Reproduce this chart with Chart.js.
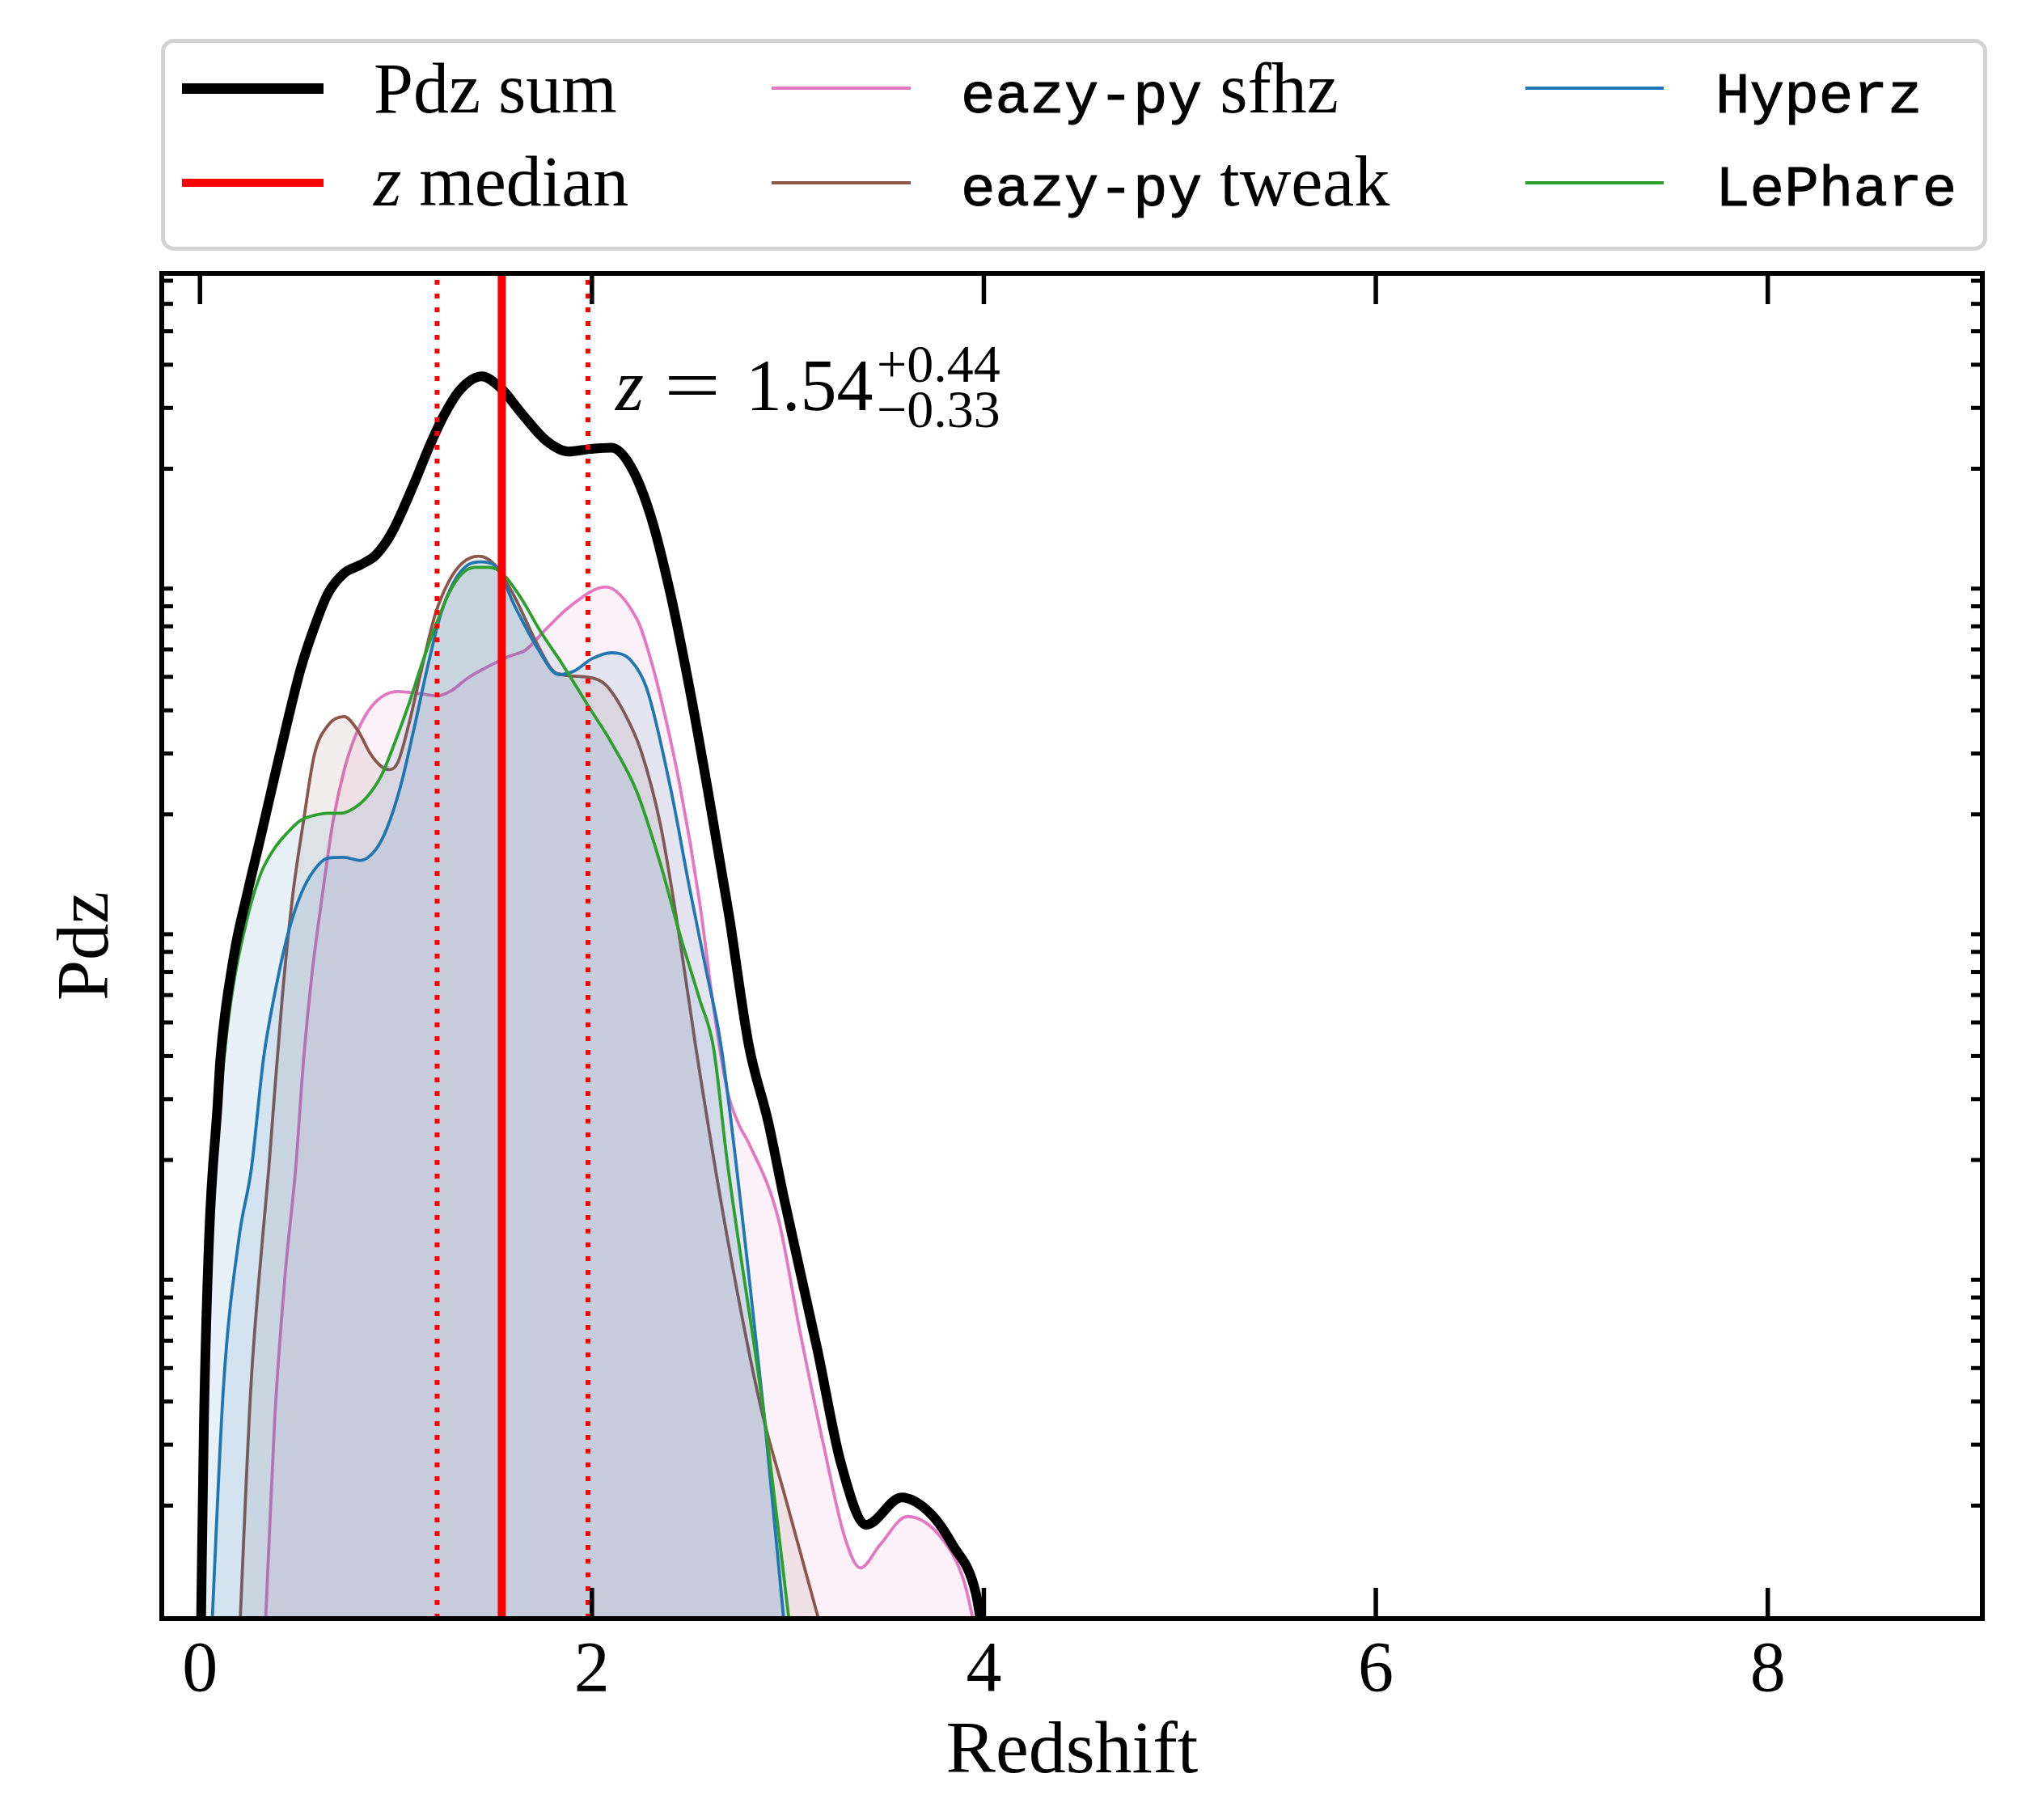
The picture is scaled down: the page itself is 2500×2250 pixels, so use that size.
<!DOCTYPE html>
<html>
<head>
<meta charset="utf-8">
<title>Pdz</title>
<script src="https://cdn.jsdelivr.net/npm/chart.js@4.4.1/dist/chart.umd.min.js"></script>
<style>
  html, body { margin: 0; padding: 0; background: #ffffff; }
  #wrap { position: relative; width: 2500px; height: 2250px; overflow: hidden; }
  #pdz-chart { position: absolute; left: 0; top: 0; }
  #legend-box { position: absolute; left: 199px; top: 48px; width: 2258px; height: 262px; box-sizing: border-box;
                border: 5px solid #d3d3d3; border-radius: 16px; background: rgba(255, 255, 255, 0.8); }
  .leg-line { position: absolute; }
  .leg-text { position: absolute; font-family: 'Liberation Serif', serif; font-size: 88px; line-height: 100px;
              white-space: nowrap; color: #000; }
  .mono { font-family: 'Liberation Mono', monospace; font-size: 71px; -webkit-text-stroke: 1px #000; }
</style>
</head>
<body>
<div id="wrap">
  <canvas id="pdz-chart" width="2500" height="2250"></canvas>
  <div id="legend-box"></div>
</div>
<script>
// redshift grid and Pdz (log axis, arbitrary units)
const sumZ = [0.004, 0.02, 0.047, 0.09, 0.104, 0.173, 0.241, 0.31, 0.378, 0.447, 0.515, 0.584, 0.652, 0.735, 0.817, 0.899, 0.98, 1.092, 1.171, 1.249, 1.328, 1.438, 1.53, 1.643, 1.768, 1.879, 1.99, 2.1, 2.2, 2.3, 2.4, 2.5, 2.6, 2.7, 2.8, 2.9, 2.98, 3.15, 3.27, 3.4, 3.58, 3.73, 3.84, 3.96, 4.0];
const sumPdz = [8e-4, 3.44e-3, 0.0121, 0.029, 0.0392, 0.0779, 0.1177, 0.1724, 0.2533, 0.3723, 0.530, 0.697, 0.8687, 0.9966, 1.053, 1.128, 1.31, 1.809, 2.325, 2.883, 3.388, 3.701, 3.446, 2.883, 2.408, 2.243, 2.281, 2.301, 2.023, 1.46, 0.872, 0.457, 0.220, 0.1017, 0.0431, 0.0257, 0.0155, 5.67e-3, 2.66e-3, 1.76e-3, 2.11e-3, 1.89e-3, 1.54e-3, 1.11e-3, 8e-4];

const sfhzZ = [0.33, 0.38, 0.435, 0.488, 0.529, 0.57, 0.625, 0.68, 0.735, 0.789, 0.858, 0.927, 1.009, 1.118, 1.214, 1.283, 1.365, 1.475, 1.584, 1.66, 1.77, 1.88, 2.07, 2.23, 2.27, 2.35, 2.45, 2.55, 2.62, 2.69, 2.75, 2.8, 2.95, 3.06, 3.18, 3.29, 3.37, 3.47, 3.61, 3.78, 3.9, 3.97];
const sfhzPdz = [8e-4, 3.44e-3, 9.38e-3, 0.01884, 0.03926, 0.0679, 0.1175, 0.1924, 0.2675, 0.333, 0.3977, 0.4376, 0.4536, 0.4475, 0.4403, 0.456, 0.4952, 0.5373, 0.5754, 0.597, 0.691, 0.793, 0.910, 0.734, 0.640, 0.438, 0.240, 0.111, 0.0557, 0.0319, 0.0253, 0.0224, 0.0136, 6.45e-3, 3.03e-3, 1.62e-3, 1.32e-3, 1.54e-3, 1.86e-3, 1.62e-3, 1.20e-3, 8e-4];

const tweakZ = [0.2, 0.26, 0.32, 0.351, 0.378, 0.42, 0.474, 0.529, 0.584, 0.652, 0.735, 0.803, 0.872, 0.927, 0.968, 1.009, 1.064, 1.132, 1.2, 1.269, 1.338, 1.42, 1.5, 1.61, 1.72, 1.82, 1.98, 2.07, 2.17, 2.25, 2.35, 2.45, 2.53, 2.69, 2.86, 2.99, 3.19];
const tweakPdz = [8e-4, 4.42e-3, 0.0120, 0.01884, 0.02985, 0.0592, 0.1175, 0.1924, 0.2982, 0.3613, 0.3837, 0.3514, 0.2982, 0.2747, 0.2695, 0.2823, 0.3613, 0.530, 0.757, 0.9425, 1.0666, 1.117, 1.062, 0.842, 0.623, 0.512, 0.499, 0.474, 0.389, 0.306, 0.186, 0.0857, 0.0424, 0.0120, 3.89e-3, 2.08e-3, 8e-4];

const hyperzZ = [0.057, 0.12, 0.2, 0.262, 0.324, 0.378, 0.447, 0.515, 0.584, 0.652, 0.735, 0.817, 0.899, 0.954, 1.022, 1.091, 1.16, 1.228, 1.296, 1.365, 1.434, 1.502, 1.61, 1.72, 1.83, 1.91, 2.0, 2.1, 2.2, 2.28, 2.4, 2.5, 2.58, 2.66, 2.8, 2.88, 2.99];
const hyperzPdz = [8e-4, 4.42e-3, 0.0120, 0.01884, 0.03926, 0.0592, 0.0894, 0.1175, 0.1384, 0.1495, 0.1503, 0.1471, 0.1588, 0.1822, 0.2395, 0.3514, 0.530, 0.757, 0.9425, 1.052, 1.075, 1.052, 0.793, 0.608, 0.508, 0.520, 0.564, 0.587, 0.557, 0.462, 0.240, 0.121, 0.0722, 0.0424, 9.38e-3, 3.60e-3, 8e-4];

const lephareZ = [0.005, 0.02, 0.047, 0.09, 0.15, 0.241, 0.31, 0.378, 0.447, 0.515, 0.584, 0.652, 0.721, 0.789, 0.858, 0.927, 0.995, 1.064, 1.132, 1.2, 1.269, 1.338, 1.406, 1.475, 1.543, 1.64, 1.74, 1.85, 1.98, 2.1, 2.23, 2.35, 2.45, 2.55, 2.62, 2.69, 2.88, 3.02];
const lepharePdz = [8e-4, 3.0e-3, 0.01044, 0.0246, 0.0534, 0.100, 0.1347, 0.1589, 0.1772, 0.1924, 0.1988, 0.2016, 0.2016, 0.2089, 0.2268, 0.260, 0.3236, 0.4142, 0.5446, 0.697, 0.8687, 0.9957, 1.0376, 1.0376, 0.9957, 0.842, 0.673, 0.543, 0.413, 0.322, 0.232, 0.1435, 0.0894, 0.0582, 0.0424, 0.0199, 3.60e-3, 8e-4];

const zMedian = 1.54;
const zErrLow = 0.33;
const zErrHigh = 0.44;

const xTicks = [0, 2, 4, 6, 8];
const xTickLabels = ['0', '2', '4', '6', '8'];
const xMin = -0.195, xMax = 9.095;
const yMin = 9.42e-4, yMax = 7.35;

// where the z label sits, in data units (left end, baseline)
const labelZ = 2.12;
const labelPdz = 2.95;

const serif = "'Liberation Serif', serif";

function toPoints(zs, vals) {
    return zs.map(function (z, i) { return { x: z, y: vals[i] }; });
}

function curve(label, zs, vals, color, fillColor, width, order) {
    return {
        label: label,
        data: toPoints(zs, vals),
        borderColor: color,
        backgroundColor: fillColor || color,
        fill: fillColor ? 'start' : false,
        borderWidth: width,
        cubicInterpolationMode: 'monotone',
        pointRadius: 0,
        order: order,
        clip: 0
    };
}

function vline(label, z, width, dash, order) {
    return {
        label: label,
        data: [{ x: z, y: yMin }, { x: z, y: yMax }],
        borderColor: '#ff0000',
        borderWidth: width,
        borderDash: dash,
        borderCapStyle: 'butt',
        fill: false,
        tension: 0,
        pointRadius: 0,
        order: order,
        clip: 0
    };
}

// axes frame + inward ticks, matplotlib style
const framePlugin = {
    id: 'frame',
    afterDraw: function (chart) {
        const ctx = chart.ctx;
        const a = chart.chartArea;
        const x = chart.scales.x;
        const y = chart.scales.y;
        function seg(x1, y1, x2, y2) {
            ctx.beginPath();
            ctx.moveTo(x1, y1);
            ctx.lineTo(x2, y2);
            ctx.stroke();
        }
        ctx.save();
        ctx.strokeStyle = '#000';
        ctx.lineWidth = 5.5;
        xTicks.forEach(function (v) {
            const px = x.getPixelForValue(v);
            seg(px, a.bottom, px, a.bottom - 38);
            seg(px, a.top, px, a.top + 38);
        });
        ctx.lineWidth = 5;
        for (let e = -4; e <= 1; e++) {
            for (let m = 2; m <= 9; m++) {
                const v = m * Math.pow(10, e);
                if (v < y.min || v > y.max) continue;
                const py = y.getPixelForValue(v);
                seg(a.left, py, a.left + 14, py);
                seg(a.right, py, a.right - 14, py);
            }
        }
        ctx.lineWidth = 6;
        ctx.strokeRect(a.left, a.top, a.right - a.left, a.bottom - a.top);
        ctx.restore();
    }
};

const zLabelPlugin = {
    id: 'zLabel',
    afterDraw: function (chart) {
        const ctx = chart.ctx;
        const px = chart.scales.x.getPixelForValue(labelZ);
        const py = chart.scales.y.getPixelForValue(labelPdz);
        ctx.save();
        ctx.fillStyle = '#000';
        ctx.textBaseline = 'alphabetic';
        ctx.textAlign = 'left';
        ctx.font = 'italic 90px ' + serif;
        ctx.fillText('z', px, py);
        ctx.font = '90px ' + serif;
        // matplotlib's "=" is wider than the Liberation one
        ctx.save();
        ctx.translate(px + 60, py);
        ctx.scale(1.38, 1);
        ctx.fillText('=', 0, 0);
        ctx.restore();
        ctx.fillText(zMedian.toFixed(2), px + 161, py);
        ctx.font = '66px ' + serif;
        ctx.fillText('+' + zErrHigh.toFixed(2), px + 323, py - 35);
        ctx.fillText('\u2212' + zErrLow.toFixed(2), px + 323, py + 21);
        ctx.restore();
    }
};

new Chart(document.getElementById('pdz-chart'), {
    type: 'line',
    data: {
        datasets: [
            vline('z median', zMedian, 10, [], 0),
            vline('z low', zMedian - zErrLow, 6, [6, 11], 1),
            vline('z high', zMedian + zErrHigh, 6, [6, 11], 1),
            curve('Pdz sum', sumZ, sumPdz, '#000000', null, 12, 2),
            curve('LePhare', lephareZ, lepharePdz, '#2ca02c', 'rgba(31, 119, 180, 0.1)', 3.8, 3),
            curve('Hyperz', hyperzZ, hyperzPdz, '#1f77b4', 'rgba(31, 119, 180, 0.1)', 3.8, 4),
            curve('eazy-py tweak', tweakZ, tweakPdz, '#8c564b', 'rgba(140, 86, 75, 0.1)', 3.8, 5),
            curve('eazy-py sfhz', sfhzZ, sfhzPdz, '#e377c2', 'rgba(227, 119, 194, 0.1)', 3.8, 6)
        ]
    },
    options: {
        responsive: false,
        animation: false,
        devicePixelRatio: 1,
        layout: { padding: { left: 0, right: 49, top: 338, bottom: 0 } },
        plugins: {
            legend: { display: false },
            tooltip: { enabled: false }
        },
        scales: {
            x: {
                type: 'linear',
                min: xMin,
                max: xMax,
                grid: { display: false, drawTicks: false },
                border: { display: false },
                afterBuildTicks: function (scale) {
                    scale.ticks = xTicks.map(function (v) { return { value: v }; });
                },
                ticks: {
                    autoSkip: false,
                    maxRotation: 0,
                    padding: 13,
                    color: '#000',
                    font: { family: serif, size: 88 },
                    callback: function (value, index) { return xTickLabels[index]; }
                },
                title: {
                    display: true,
                    text: 'Redshift',
                    color: '#000',
                    font: { family: serif, size: 92 },
                    padding: { top: 0, bottom: 28 }
                },
                afterFit: function (scale) { scale.height = 249; }
            },
            y: {
                type: 'logarithmic',
                min: yMin,
                max: yMax,
                grid: { display: false, drawTicks: false },
                border: { display: false },
                ticks: { display: false },
                title: {
                    display: true,
                    text: 'Pdz',
                    color: '#000',
                    font: { family: serif, size: 90 },
                    padding: { top: 55, bottom: 0 }
                },
                afterFit: function (scale) { scale.width = 200; }
            }
        }
    },
    plugins: [framePlugin, zLabelPlugin]
});

// legend, three columns of two rows
const legendEntries = [
    { html: 'Pdz sum', color: '#000000', width: 13, col: 0, row: 0 },
    { html: '<i>z</i> median', color: '#ff0000', width: 10, col: 0, row: 1 },
    { html: '<span class="mono">eazy-py</span> sfhz', color: '#e377c2', width: 4, col: 1, row: 0 },
    { html: '<span class="mono">eazy-py</span> tweak', color: '#8c564b', width: 4, col: 1, row: 1 },
    { html: '<span class="mono">Hyperz</span>', color: '#1f77b4', width: 4, col: 2, row: 0 },
    { html: '<span class="mono">LePhare</span>', color: '#2ca02c', width: 4, col: 2, row: 1 }
];
const legendCols = [
    { lineX: 225, lineW: 175, textX: 462 },
    { lineX: 954, lineW: 172, textX: 1188 },
    { lineX: 1886, lineW: 171, textX: 2121 }
];
const legendRows = [
    { lineY: 109, baseY: 140 },
    { lineY: 226, baseY: 255 }
];

const wrap = document.getElementById('wrap');
legendEntries.forEach(function (e) {
    const c = legendCols[e.col];
    const r = legendRows[e.row];
    const line = document.createElement('div');
    line.className = 'leg-line';
    line.style.left = c.lineX + 'px';
    line.style.width = c.lineW + 'px';
    line.style.top = (r.lineY - e.width / 2) + 'px';
    line.style.height = e.width + 'px';
    line.style.background = e.color;
    wrap.appendChild(line);

    const text = document.createElement('div');
    text.className = 'leg-text';
    text.style.left = c.textX + 'px';
    text.style.top = (r.baseY - 80) + 'px';
    text.innerHTML = e.html;
    wrap.appendChild(text);
});
</script>
</body>
</html>
